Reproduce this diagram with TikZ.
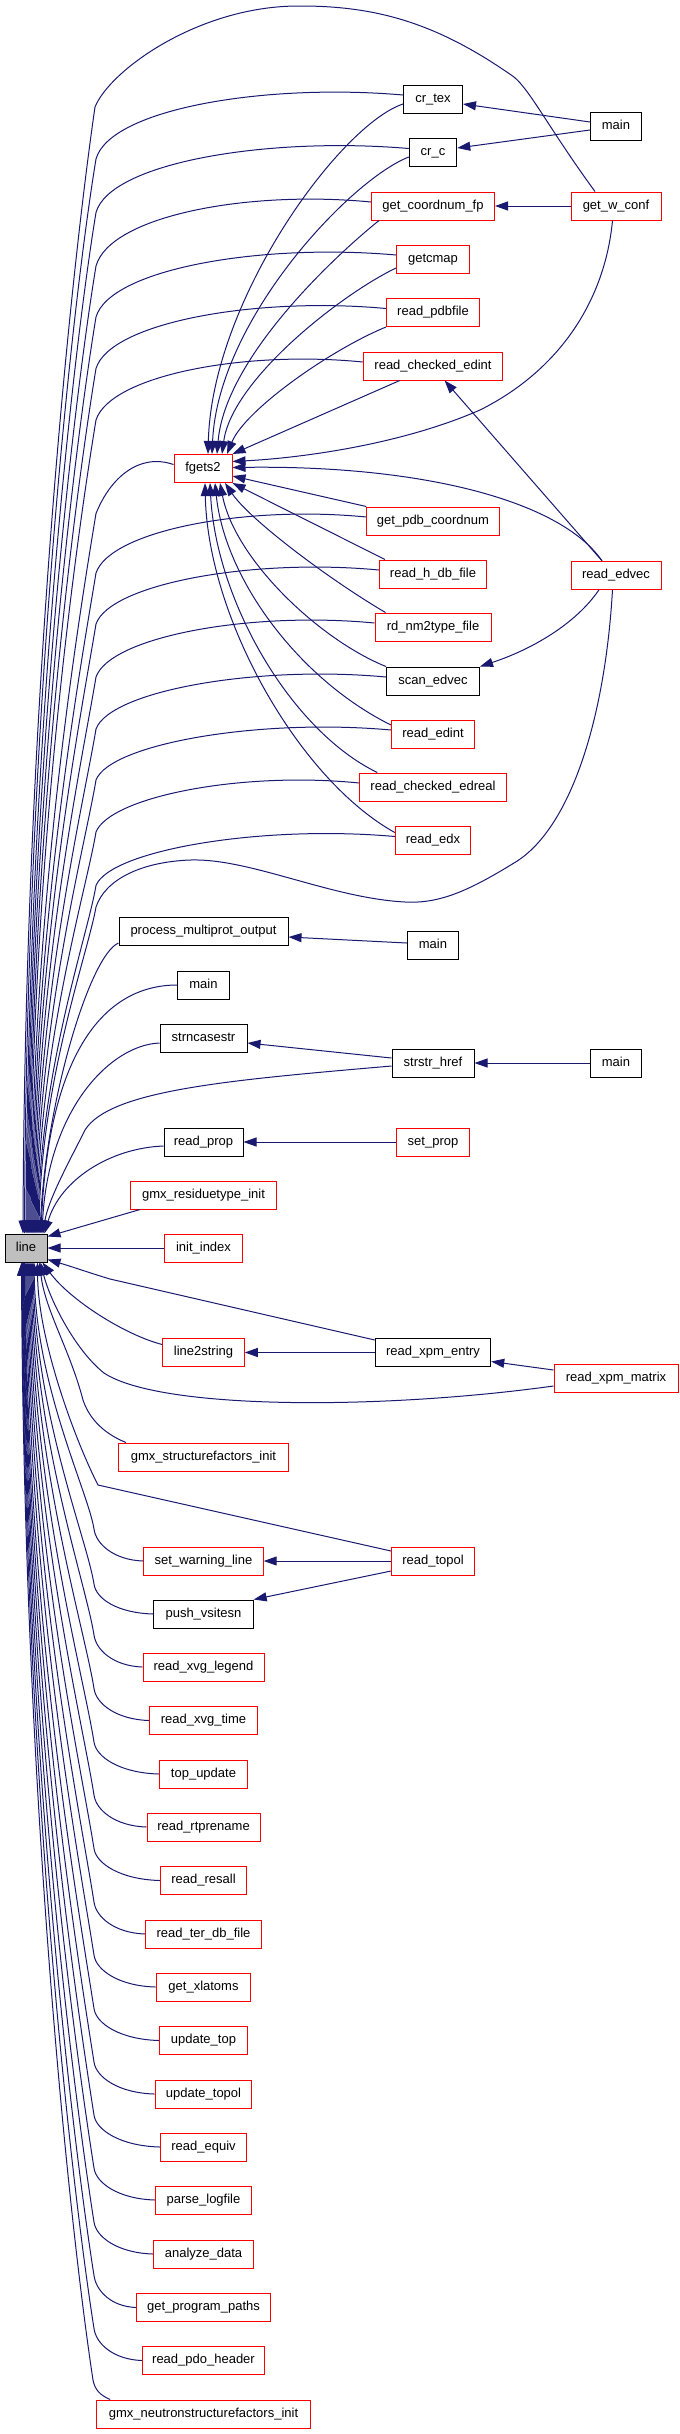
\documentclass[tikz,border=0pt]{standalone}
\usepackage{fontspec}
\setmainfont{Liberation Sans}
\usetikzlibrary{arrows.meta}
\definecolor{edgeblue}{HTML}{191970}
\definecolor{nodegray}{HTML}{BFBFBF}
\definecolor{nodered}{HTML}{FF0000}

% edge from a node above "line" into line's top
\newcommand\upedge[3]{%
  \path (#1.west); \pgfgetlastxy{\cgex}{\cgey}%
  \pgfmathsetmacro\cgxw{\cgex}%
  \pgfmathsetmacro\cgyn{-\cgey}%
  \pgfmathsetmacro\cgca{\cgxw-0.45*(\cgxw-96)}%
  \pgfmathsetmacro\cgk{\cgyn+#3}%
  \pgfmathsetmacro\cgl{1234-\cgk}%
  \pgfmathsetmacro\cgbx{96-0.023*\cgl}%
  \pgfmathsetmacro\cgby{\cgk+0.14*\cgl}%
  \pgfmathsetmacro\cgcy{\cgk+0.53*\cgl}%
  \pgfmathsetmacro\cgt{#2-4.5}%
  \draw[calledge] ([yshift=4pt]#1.west) .. controls (\cgca,\cgyn-16) and (110,\cgyn+10) .. (96,\cgk) .. controls (\cgbx,\cgby) and (#2+2,\cgcy) .. ([xshift=\cgt pt]line.north west);
}
% edge from a node below "line" into line's bottom
\newcommand\loedge[3]{%
  \path (#1.west); \pgfgetlastxy{\cgex}{\cgey}%
  \pgfmathsetmacro\cgxw{\cgex}%
  \pgfmathsetmacro\cgyn{-\cgey}%
  \pgfmathsetmacro\cgca{\cgxw-0.6*(\cgxw-94)}%
  \pgfmathsetmacro\cgk{\cgyn-#3}%
  \pgfmathsetmacro\cgl{\cgk-1262}%
  \pgfmathsetmacro\cgbx{94-0.022*\cgl}%
  \pgfmathsetmacro\cgby{\cgk-0.14*\cgl}%
  \pgfmathsetmacro\cgcy{\cgk-0.53*\cgl}%
  \pgfmathsetmacro\cgt{#2-4.5}%
  \draw[calledge] (#1.west) .. controls (\cgca,\cgyn-1) and (96,\cgk+15) .. (94,\cgk) .. controls (\cgbx,\cgby) and (#2+2,\cgcy) .. ([xshift=\cgt pt]line.south west);
}

\begin{document}
\begin{tikzpicture}[x=1pt,y=-1pt,
  nbox/.style={draw, line width=1pt, fill=white, minimum height=28pt, inner sep=0pt,
    font=\fontsize{13pt}{15pt}\selectfont, text height=9pt, text depth=2.5pt},
  blk/.style={nbox, draw=black},
  rd/.style={nbox, draw=nodered},
  cur/.style={nbox, draw=black, fill=nodegray},
  calledge/.style={draw=edgeblue, line width=1pt, -{Triangle[length=13pt,width=9pt]}},
]
\useasboundingbox (0,0) rectangle (680,2434);

% ---- column 1
\node[cur, minimum width=42pt] (line) at (26,1248) {line};

% ---- column 2
\node[rd,  minimum width=58pt]    (fgets2)    at (203,468.5) {fgets2};
\node[blk, minimum width=169pt]   (pmo)       at (203.5,931) {process\_multiprot\_output};
\node[blk, minimum width=51.4pt]  (mainc)     at (203.5,985) {main};
\node[blk, minimum width=87pt]    (strncase)  at (203.5,1038) {strncasestr};
\node[blk, minimum width=79pt]    (readprop)  at (203.5,1142) {read\_prop};
\node[rd,  minimum width=146pt]   (gmxres)    at (203.5,1195) {gmx\_residuetype\_init};
\node[rd,  minimum width=77.6pt]  (initindex) at (203.5,1248) {init\_index};
\node[rd,  minimum width=81.5pt]  (l2s)       at (203.5,1352.5) {line2string};
\node[rd,  minimum width=170pt]   (gmxsf)     at (203.5,1457) {gmx\_structurefactors\_init};
\node[rd,  minimum width=119.4pt] (setwarn)   at (203.5,1561) {set\_warning\_line};
\node[blk, minimum width=99.4pt]  (pushv)     at (203.5,1614) {push\_vsitesn};
\node[rd,  minimum width=121pt]   (xvgleg)    at (203.5,1667) {read\_xvg\_legend};
\node[rd,  minimum width=107.7pt] (xvgtime)   at (203.5,1720.5) {read\_xvg\_time};
\node[rd,  minimum width=87.6pt]  (topupd)    at (203.5,1774) {top\_update};
\node[rd,  minimum width=113pt]   (rtpren)    at (203.5,1827) {read\_rtprename};
\node[rd,  minimum width=86pt]    (resall)    at (203.5,1880.5) {read\_resall};
\node[rd,  minimum width=115.5pt] (terdb)     at (203.5,1934) {read\_ter\_db\_file};
\node[rd,  minimum width=94.6pt]  (xlatoms)   at (203.5,1987) {get\_xlatoms};
\node[rd,  minimum width=87.6pt]  (updtop)    at (203.5,2040.5) {update\_top};
\node[rd,  minimum width=96.8pt]  (updtopol)  at (203.5,2094) {update\_topol};
\node[rd,  minimum width=86pt]    (equiv)     at (203.5,2147) {read\_equiv};
\node[rd,  minimum width=95.5pt]  (parselog)  at (203.5,2200) {parse\_logfile};
\node[rd,  minimum width=99.4pt]  (analyze)   at (203.5,2254) {analyze\_data};
\node[rd,  minimum width=134pt]   (progpaths) at (203.5,2307.5) {get\_program\_paths};
\node[rd,  minimum width=122pt]   (pdohdr)    at (203.5,2360.5) {read\_pdo\_header};
\node[rd,  minimum width=213.6pt] (gmxneu)    at (203.5,2414) {gmx\_neutronstructurefactors\_init};

% ---- column 3
\node[blk, minimum width=59pt]    (crtex)     at (433,99) {cr\_tex};
\node[blk, minimum width=47.5pt]  (crc)       at (433,152.5) {cr\_c};
\node[rd,  minimum width=123pt]   (coordfp)   at (433,206) {get\_coordnum\_fp};
\node[rd,  minimum width=73pt]    (getcmap)   at (433,259) {getcmap};
\node[rd,  minimum width=93pt]    (pdbfile)   at (433,312.5) {read\_pdbfile};
\node[rd,  minimum width=139.5pt] (chkedint)  at (433,366) {read\_checked\_edint};
\node[rd,  minimum width=132.5pt] (pdbcoord)  at (433,521) {get\_pdb\_coordnum};
\node[rd,  minimum width=107pt]   (hdb)       at (433,574) {read\_h\_db\_file};
\node[rd,  minimum width=116pt]   (nm2type)   at (433,627) {rd\_nm2type\_file};
\node[blk, minimum width=93pt]    (scanedvec) at (433,681) {scan\_edvec};
\node[rd,  minimum width=83pt]    (edint)     at (433,734) {read\_edint};
\node[rd,  minimum width=146.5pt] (chkedreal) at (433,787) {read\_checked\_edreal};
\node[rd,  minimum width=75.4pt]  (edx)       at (433,840.5) {read\_edx};
\node[blk, minimum width=51.4pt]  (mainb)     at (433,945) {main};
\node[blk, minimum width=82pt]    (strstr)    at (433,1063) {strstr\_href};
\node[rd,  minimum width=73pt]    (setprop)   at (433,1142) {set\_prop};
\node[blk, minimum width=115.5pt] (xpmentry)  at (433,1352.5) {read\_xpm\_entry};
\node[rd,  minimum width=83pt]    (readtopol) at (433,1561) {read\_topol};

% ---- column 4
\node[blk, minimum width=51pt]    (maina)     at (616,126) {main};
\node[rd,  minimum width=90pt]    (wconf)     at (616,206) {get\_w\_conf};
\node[rd,  minimum width=90pt]    (edvec)     at (616,575.3) {read\_edvec};
\node[blk, minimum width=51pt]    (maind)     at (616,1063) {main};
\node[rd,  minimum width=124pt]   (xpmmatrix) at (616,1378) {read\_xpm\_matrix};

% ================= edges
% right-hand calls
\draw[calledge] ([yshift=4pt]maina.west) -- ([yshift=-5pt]crtex.east);
\draw[calledge] ([yshift=-4pt]maina.west) -- ([yshift=4.5pt]crc.east);
\draw[calledge] (wconf.west) -- (coordfp.east);
\draw[calledge] ([xshift=-14pt]edvec.north) -- ([xshift=11.6pt]chkedint.south);
\draw[calledge] ([xshift=-17pt]edvec.south) .. controls (575,625) and (530,650) .. (scanedvec.north east);
\draw[calledge] ([yshift=2pt]mainb.west) -- ([yshift=-6pt]pmo.east);
\draw[calledge] ([yshift=5pt]strstr.west) -- ([yshift=-5pt]strncase.east);
\draw[calledge] (maind.west) -- (strstr.east);
\draw[calledge] (setprop.west) -- (readprop.east);
\draw[calledge] (xpmentry.west) -- (l2s.east);
\draw[calledge] ([yshift=8pt]xpmmatrix.west) -- ([yshift=-9pt]xpmentry.east);
\draw[calledge] (readtopol.west) -- (setwarn.east);
\draw[calledge] ([yshift=-10pt]readtopol.west) -- (pushv.north east);

% into fgets2
\draw[calledge] ([yshift=-5pt]crtex.west) .. controls (340,125) and (212,300) .. ([xshift=5pt]fgets2.north);
\draw[calledge] ([yshift=-4.5pt]crc.west) .. controls (350,180) and (218,320) .. ([xshift=9pt]fgets2.north);
\draw[calledge] ([xshift=8pt]coordfp.south west) .. controls (330,260) and (225,360) .. ([xshift=14pt]fgets2.north);
\draw[calledge] ([yshift=-9pt]getcmap.west) .. controls (340,295) and (232,380) .. ([xshift=19pt]fgets2.north);
\draw[calledge] (pdbfile.south west) .. controls (330,350) and (245,410) .. ([xshift=24pt]fgets2.north);
\draw[calledge] ([xshift=37pt]chkedint.south west) -- (fgets2.north east);
\draw[calledge] ([xshift=-3.5pt]wconf.south) .. controls (605,300) and (560,370) .. (480,410) .. controls (400,445) and (300,458) .. ([yshift=7pt]fgets2.east);
\draw[calledge] ([xshift=-14pt]edvec.north) .. controls (560,500) and (420,465) .. ([yshift=1pt]fgets2.east);
\draw[calledge] (pdbcoord.north west) -- ([yshift=-7.5pt]fgets2.east);
\draw[calledge] ([xshift=6pt]hdb.north west) -- (fgets2.south east);
\draw[calledge] ([xshift=11pt]nm2type.north west) .. controls (330,580) and (250,520) .. ([xshift=22pt]fgets2.south);
\draw[calledge] (scanedvec.north west) .. controls (320,640) and (235,560) .. ([xshift=17pt]fgets2.south);
\draw[calledge] ([yshift=9pt]edint.west) .. controls (300,680) and (225,580) .. ([xshift=12pt]fgets2.south);
\draw[calledge] ([xshift=18pt]chkedreal.north west) .. controls (290,730) and (216,600) .. ([xshift=7pt]fgets2.south);
\draw[calledge] ([yshift=8pt]edx.west) .. controls (300,780) and (208,620) .. ([xshift=2pt]fgets2.south);

% into line, from above
\draw[calledge] ([xshift=-21pt]wconf.north) .. controls (550,130) and (530,90) .. (514,77) .. controls (440,25) and (380,6) .. (301,6) .. controls (200,5) and (110,70) .. (95,107) .. controls (72,265) and (25,704) .. ([xshift=18.5pt]line.north west);
\upedge{crtex}{24.5}{60}
\upedge{crc}{26}{60}
\upedge{coordfp}{27}{60}
\upedge{getcmap}{28}{58}
\upedge{pdbfile}{29}{56}
\upedge{chkedint}{30}{54}
\upedge{fgets2}{31}{45}
\upedge{pdbcoord}{32}{52}
\upedge{hdb}{33}{50}
\upedge{nm2type}{34}{50}
\upedge{scanedvec}{35}{48}
\upedge{edint}{36}{46}
\upedge{chkedreal}{37}{45}
\upedge{edx}{38}{45}
\draw[calledge] ([xshift=-3.5pt]edvec.south) .. controls (605,720) and (570,830) .. (514,863) .. controls (470,890) and (440,904) .. (405,902) .. controls (330,898) and (250,858) .. (190,860) .. controls (140,862) and (105,880) .. (96,907) .. controls (88,953) and (41,1080) .. ([xshift=34.5pt]line.north west);
\draw[calledge] ([yshift=-12pt]pmo.west) .. controls (90,955) and (46,1100) .. ([xshift=35.5pt]line.north west);
\draw[calledge] (mainc.west) .. controls (100,985) and (48,1060) .. ([xshift=36.5pt]line.north west);
\draw[calledge] ([yshift=-5pt]strncase.west) .. controls (110,1045) and (48,1110) .. ([xshift=37.5pt]line.north west);
\draw[calledge] ([yshift=-3pt]strstr.west) .. controls (230,1080) and (110,1090) .. (85,1130) .. controls (70,1160) and (48,1200) .. ([xshift=38.5pt]line.north west);
\draw[calledge] ([yshift=-4pt]readprop.west) .. controls (110,1148) and (60,1180) .. ([xshift=40pt]line.north west);
\draw[calledge] ([xshift=10pt]gmxres.south west) -- ([yshift=-3pt]line.north east);
\draw[calledge] (initindex.west) -- (line.east);

% into line, from below
\draw[calledge] ([yshift=8pt]l2s.west) .. controls (125,1335) and (70,1300) .. ([xshift=38pt]line.south west);
\draw[calledge] ([yshift=-2pt]xpmentry.north west) -- (110,1279) .. controls (90,1273) and (70,1266) .. ([yshift=3pt]line.south east);
\draw[calledge] ([yshift=-8pt]xpmmatrix.west) .. controls (380,1410) and (160,1410) .. (104,1373) .. controls (75,1350) and (50,1300) .. ([xshift=36pt]line.south west);
\draw[calledge] ([xshift=8pt]gmxsf.north west) .. controls (100,1432) and (88,1415) .. (83,1400) .. controls (70,1350) and (45,1310) .. ([xshift=35pt]line.south west);
\draw[calledge] ([yshift=10pt]readtopol.west) -- (98,1485) .. controls (75,1440) and (38,1340) .. ([xshift=33pt]line.south west);
\loedge{setwarn}{34}{32}
\loedge{pushv}{33}{30}
\loedge{xvgleg}{32}{32}
\loedge{xvgtime}{31}{32}
\loedge{topupd}{30}{32}
\loedge{rtpren}{29}{32}
\loedge{resall}{28}{32}
\loedge{terdb}{27}{32}
\loedge{xlatoms}{26}{32}
\loedge{updtop}{25}{32}
\loedge{updtopol}{24.5}{32}
\loedge{equiv}{24}{32}
\loedge{parselog}{23.5}{32}
\loedge{analyze}{23}{32}
\loedge{progpaths}{22.5}{32}
\loedge{pdohdr}{22}{32}
\draw[calledge] ([xshift=14pt]gmxneu.north west) .. controls (100,2395) and (95,2390) .. (93,2380) .. controls (69,2222) and (23.5,1787) .. ([xshift=17pt]line.south west);
\end{tikzpicture}
\end{document}
